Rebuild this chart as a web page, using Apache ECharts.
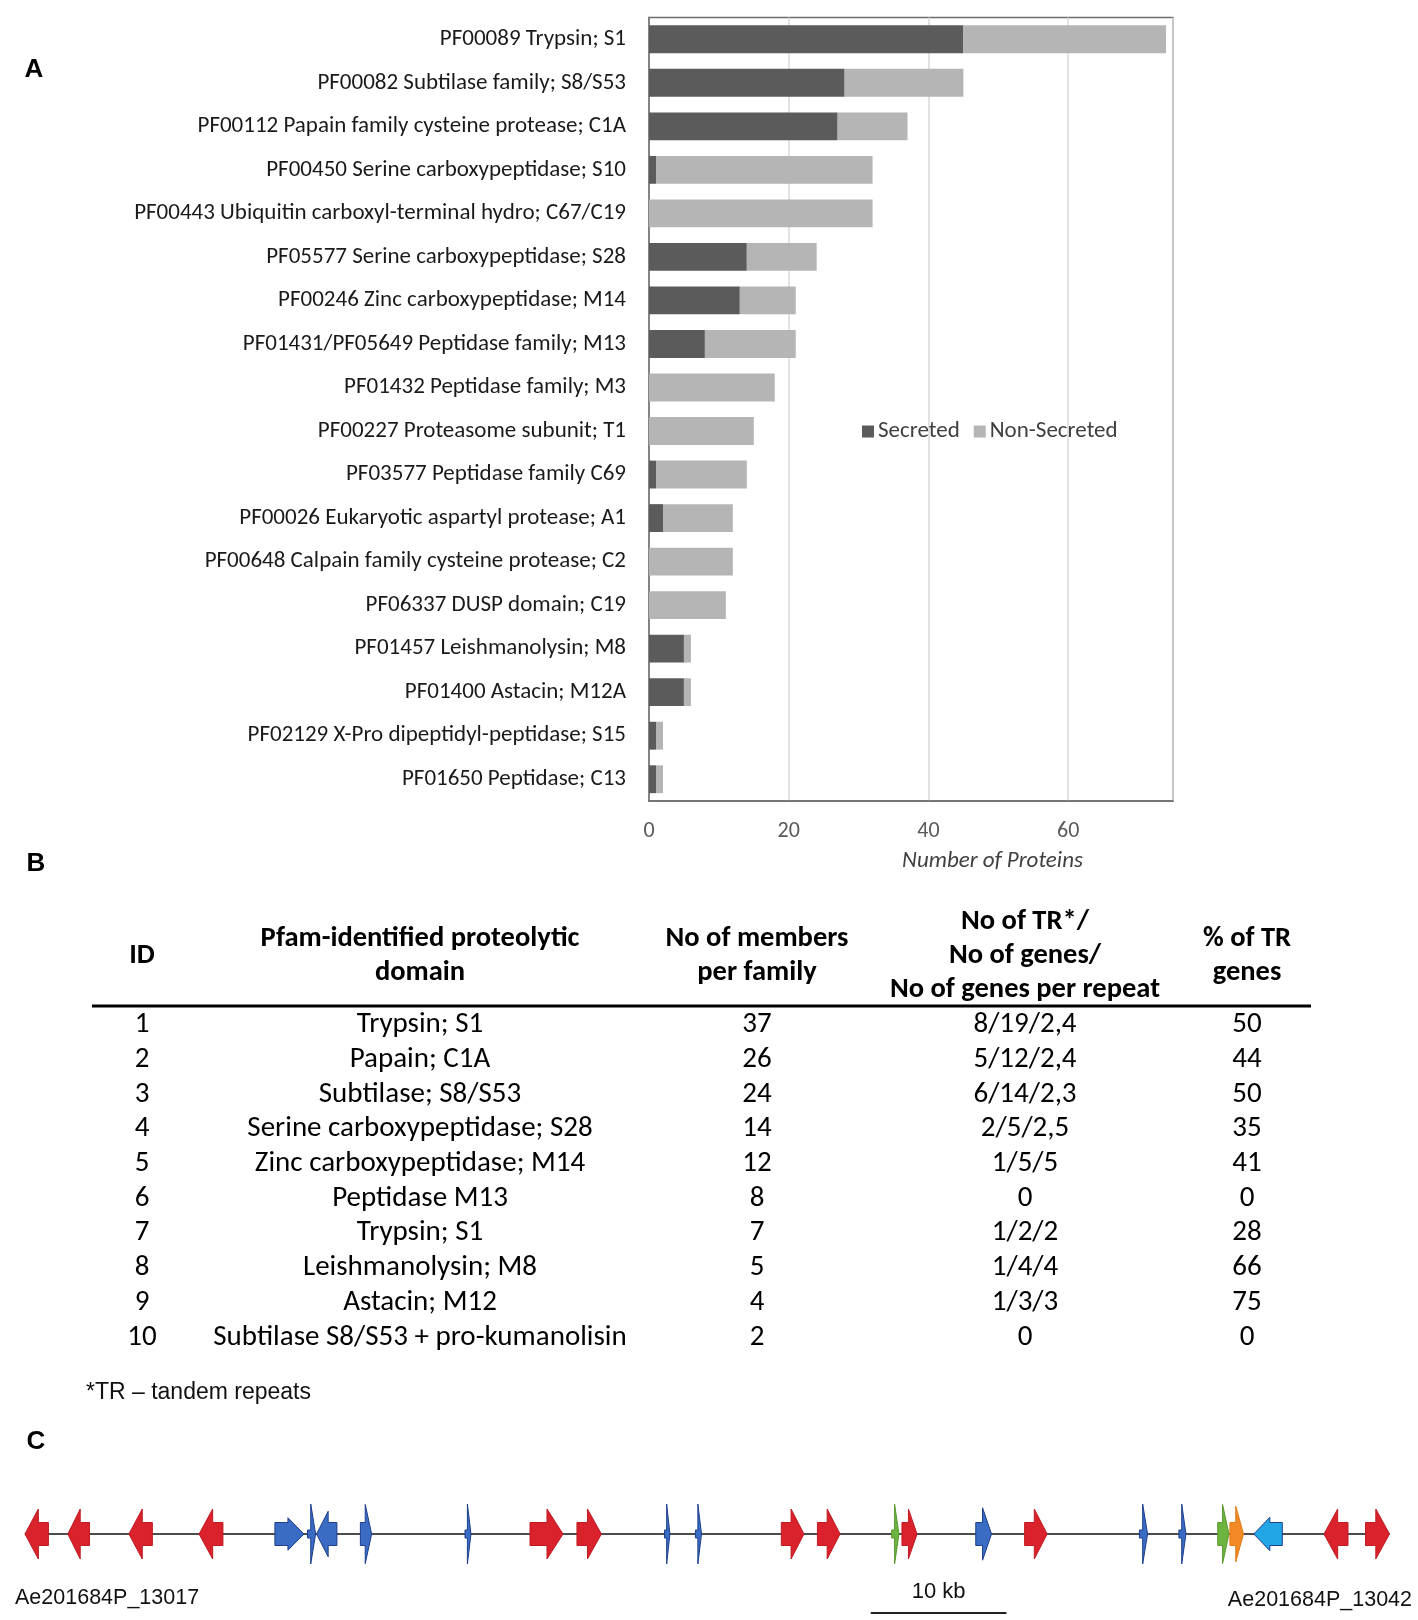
<!DOCTYPE html>
<html><head><meta charset="utf-8">
<script src="https://cdn.jsdelivr.net/npm/echarts@6/dist/echarts.min.js"></script>
<style>html,body{margin:0;padding:0;background:#fff}#c{width:1418px;height:1620px}</style>
</head><body><div id="c"></div>
<script>
// ---------- Panel A data ----------
const categories = [
  'PF00089 Trypsin; S1',
  'PF00082 Subtilase family; S8/S53',
  'PF00112 Papain family cysteine protease; C1A',
  'PF00450 Serine carboxypeptidase; S10',
  'PF00443 Ubiquitin carboxyl-terminal hydro; C67/C19',
  'PF05577 Serine carboxypeptidase; S28',
  'PF00246 Zinc carboxypeptidase; M14',
  'PF01431/PF05649 Peptidase family; M13',
  'PF01432 Peptidase family; M3',
  'PF00227 Proteasome subunit; T1',
  'PF03577 Peptidase family C69',
  'PF00026 Eukaryotic aspartyl protease; A1',
  'PF00648 Calpain family cysteine protease; C2',
  'PF06337 DUSP domain; C19',
  'PF01457 Leishmanolysin; M8',
  'PF01400 Astacin; M12A',
  'PF02129 X-Pro dipeptidyl-peptidase; S15',
  'PF01650 Peptidase; C13'
];
const secreted    = [45, 28, 27, 1, 0, 14, 13, 8, 0, 0, 1, 2, 0, 0, 5, 5, 1, 1];
const nonSecreted = [29, 17, 10, 31, 32, 10, 8, 13, 18, 15, 13, 10, 12, 11, 1, 1, 1, 1];
const xTickLabels = ['0', '20', '40', '60'];
const xAxisTitle = 'Number of Proteins';
const seriesNames = ['Secreted', 'Non-Secreted'];

// ---------- Panel B data ----------
const tableHeaders = ['ID', 'Pfam-identified proteolytic\ndomain', 'No of members\nper family', 'No of TR*/\nNo of genes/\nNo of genes per repeat', '% of TR\ngenes'];
const tableIds = ['1','2','3','4','5','6','7','8','9','10'];
const tableDomains = ['Trypsin; S1','Papain; C1A','Subtilase; S8/S53','Serine carboxypeptidase; S28','Zinc carboxypeptidase; M14','Peptidase M13','Trypsin; S1','Leishmanolysin; M8','Astacin; M12','Subtilase S8/S53 + pro-kumanolisin'];
const tableMembers = ['37','26','24','14','12','8','7','5','4','2'];
const tableTR = ['8/19/2,4','5/12/2,4','6/14/2,3','2/5/2,5','1/5/5','0','1/2/2','1/4/4','1/3/3','0'];
const tablePct = ['50','44','50','35','41','0','28','66','75','0'];
const footnote = '*TR \u2013 tandem repeats';

// ---------- Panel C data (kb) ----------
const geneStart  = [0.07, 3.23, 7.73, 12.90, 18.49, 20.89, 21.56, 24.79, 32.50, 37.29, 40.75, 47.20, 49.48, 55.81, 58.47, 63.94, 64.70, 70.14, 73.74, 82.20, 85.11, 87.97, 88.87, 90.63, 95.80, 98.86];
const geneEnd    = [1.80, 4.83, 9.46, 14.66, 20.63, 21.49, 23.06, 25.62, 32.94, 39.72, 42.55, 47.60, 49.93, 57.48, 60.14, 64.48, 65.81, 71.30, 75.40, 82.80, 85.63, 88.80, 89.87, 92.73, 97.57, 100.63];
const geneStrand = [-1, -1, -1, -1, 1, 1, -1, 1, 1, 1, 1, 1, 1, 1, 1, 1, 1, 1, 1, 1, 1, 1, 1, -1, -1, 1];
const geneFamily = ['red','red','red','red','blue','blue','blue','blue','blue','red','red','blue','blue','red','red','green','red','blue','red','blue','blue','green','orange','cyan','red','red'];
const scaleBarStart = 62.4;
const scaleBarLength = 10;
const scaleBarLabel = '10 kb';
const leftGeneLabel = 'Ae201684P_13017';
const rightGeneLabel = 'Ae201684P_13042';
const panelLetters = ['A', 'B', 'C'];

// ---------- styles ----------
const CAL = 'Carlito, Calibri, Lato, sans-serif';
const ARIAL = '"Liberation Sans", Arial, sans-serif';
const famColors = {
  red:    { fill: '#d9222b', stroke: '#c01b22' },
  blue:   { fill: '#3b6cc4', stroke: '#1d3f8c' },
  green:  { fill: '#6db33f', stroke: '#5a9a30' },
  orange: { fill: '#f28a26', stroke: '#e07a18' },
  cyan:   { fill: '#22a6e6', stroke: '#1d3f8c' }
};

const chart = echarts.init(document.getElementById('c'), null, { renderer: 'canvas' });

function renderGene(params, api) {
  const s = api.value(0), e = api.value(1), dir = api.value(2);
  const fam = geneFamily[params.dataIndex];
  const p1 = api.coord([s, 0]), p2 = api.coord([e, 0]);
  const yc = p1[1];
  const len = p2[0] - p1[0];
  const col = famColors[fam];
  let H, bh, hl;
  if (len < 10) { H = 30; bh = 4; hl = len * 0.6; }
  else {
    H = fam === 'red' ? 25 : Math.max(15, 38 - 0.75 * len);
    bh = 11.5;
    hl = Math.min(16, len * 0.57);
  }
  let pts;
  if (dir > 0) {
    const xb = p2[0] - hl;
    pts = [[p1[0], yc - bh], [xb, yc - bh], [xb, yc - H], [p2[0], yc], [xb, yc + H], [xb, yc + bh], [p1[0], yc + bh]];
  } else {
    const xb = p1[0] + hl;
    pts = [[p2[0], yc - bh], [xb, yc - bh], [xb, yc - H], [p1[0], yc], [xb, yc + H], [xb, yc + bh], [p2[0], yc + bh]];
  }
  return { type: 'polygon', shape: { points: pts }, style: { fill: col.fill, stroke: col.stroke, lineWidth: 1 } };
}

function renderScale(params, api) {
  const a = api.coord([api.value(0), 0]);
  const b = api.coord([api.value(0) + api.value(1), 0]);
  const y = a[1] + 79;
  return {
    type: 'group',
    children: [
      { type: 'line', shape: { x1: a[0], y1: y, x2: b[0], y2: y }, style: { stroke: '#222', lineWidth: 2 } },
      { type: 'text', style: { text: scaleBarLabel, x: (a[0] + b[0]) / 2, y: y - 21, textAlign: 'center', textVerticalAlign: 'middle', font: '22px ' + ARIAL, fill: '#111' } }
    ]
  };
}

// table graphics
const colX = [142, 420, 757, 1025, 1247];
const rowY0 = 1025, rowStep = 34.7;
const graphics = [];
panelLetters.forEach((t, i) => {
  const pos = [[34, 70], [36, 864], [36, 1442]][i];
  graphics.push({ type: 'text', x: pos[0], y: pos[1], style: { text: t, textAlign: 'center', textVerticalAlign: 'middle', font: 'bold 26px ' + ARIAL, fill: '#000' } });
});
tableHeaders.forEach((h, i) => {
  graphics.push({ type: 'text', x: colX[i], y: 956, style: { text: h, textAlign: 'center', textVerticalAlign: 'middle', font: 'bold 28.5px ' + CAL, lineHeight: 34, fill: '#000' } });
});
graphics.push({ type: 'line', shape: { x1: 92, y1: 1006, x2: 1311, y2: 1006 }, style: { stroke: '#000', lineWidth: 3 } });
const cols = [tableIds, tableDomains, tableMembers, tableTR, tablePct];
cols.forEach((col, ci) => {
  col.forEach((v, ri) => {
    graphics.push({ type: 'text', x: colX[ci], y: rowY0 + ri * rowStep, style: { text: v, textAlign: 'center', textVerticalAlign: 'middle', font: '29px ' + CAL, fill: '#000' } });
  });
});
graphics.push({ type: 'text', x: 86, y: 1393, style: { text: footnote, textAlign: 'left', textVerticalAlign: 'middle', font: '23px ' + ARIAL, fill: '#111' } });
graphics.push({ type: 'text', x: 15, y: 1598, style: { text: leftGeneLabel, textAlign: 'left', textVerticalAlign: 'middle', font: '21.5px ' + ARIAL, fill: '#111' } });
graphics.push({ type: 'text', x: 1412, y: 1600, style: { text: rightGeneLabel, textAlign: 'right', textVerticalAlign: 'middle', font: '21.5px ' + ARIAL, fill: '#111' } });

const option = {
  backgroundColor: '#fff',
  animation: false,
  textStyle: { fontFamily: CAL },
  grid: [
    { left: 649, top: 17.5, width: 524, height: 783.5, show: true, borderColor: '#6e6e6e', borderWidth: 1.5, backgroundColor: 'transparent', containLabel: false, outerBoundsMode: 'none' },
    { left: 24, top: 1504, width: 1384.1, height: 60, show: false, containLabel: false, outerBoundsMode: 'none' }
  ],
  legend: {
    data: seriesNames,
    left: 857, top: 415,
    itemWidth: 12, itemHeight: 12, itemGap: 14,
    icon: 'rect',
    textStyle: { fontSize: 23, color: '#404040', fontFamily: CAL, padding: [0, 0, 0, -1] }
  },
  xAxis: [
    {
      type: 'value', gridIndex: 0, min: 0, max: 75, interval: 20,
      axisLine: { show: true, lineStyle: { color: '#6e6e6e', width: 1.5 } },
      axisTick: { show: false },
      splitLine: { show: true, lineStyle: { color: '#d9d9d9', width: 1.5 } },
      axisLabel: {
        show: true, margin: 19, fontSize: 22, color: '#595959', fontFamily: CAL, showMaxLabel: false,
        formatter: function (v) { const i = xTickLabels.indexOf(String(v)); return i >= 0 ? xTickLabels[i] : ''; }
      },
      name: xAxisTitle, nameLocation: 'middle', nameGap: 49,
      nameTextStyle: { fontSize: 23, fontStyle: 'italic', color: '#404040', fontFamily: CAL, padding: [0, 0, 0, 163] }
    },
    { type: 'value', gridIndex: 1, min: 0, max: 102, show: false }
  ],
  yAxis: [
    {
      type: 'category', gridIndex: 0, data: categories, inverse: true,
      axisLine: { show: true, lineStyle: { color: '#6e6e6e', width: 1.5 } },
      axisTick: { show: false },
      axisLabel: { margin: 23, fontSize: 23, color: '#1a1a1a', fontFamily: CAL }
    },
    { type: 'value', gridIndex: 1, min: -1, max: 1, show: false }
  ],
  series: [
    { name: seriesNames[0], type: 'bar', stack: 'p', xAxisIndex: 0, yAxisIndex: 0, data: secreted, barCategoryGap: '36%', itemStyle: { color: '#5b5b5b' } },
    { name: seriesNames[1], type: 'bar', stack: 'p', xAxisIndex: 0, yAxisIndex: 0, data: nonSecreted, barCategoryGap: '36%', itemStyle: { color: '#b5b5b5' } },
    {
      type: 'line', xAxisIndex: 1, yAxisIndex: 1, symbol: 'none', silent: true, z: 1,
      data: [[Math.min.apply(null, geneStart), 0], [Math.max.apply(null, geneEnd), 0]],
      lineStyle: { color: '#111', width: 1.5 }
    },
    {
      type: 'custom', xAxisIndex: 1, yAxisIndex: 1, z: 3, renderItem: renderGene,
      data: geneStart.map((s, i) => [s, geneEnd[i], geneStrand[i]]),
      encode: { x: [0, 1], y: 2 }
    },
    {
      type: 'custom', xAxisIndex: 1, yAxisIndex: 1, z: 3, renderItem: renderScale,
      data: [[scaleBarStart, scaleBarLength]], encode: { x: 0 }
    }
  ],
  graphic: graphics
};
chart.setOption(option);
</script>
</body></html>
